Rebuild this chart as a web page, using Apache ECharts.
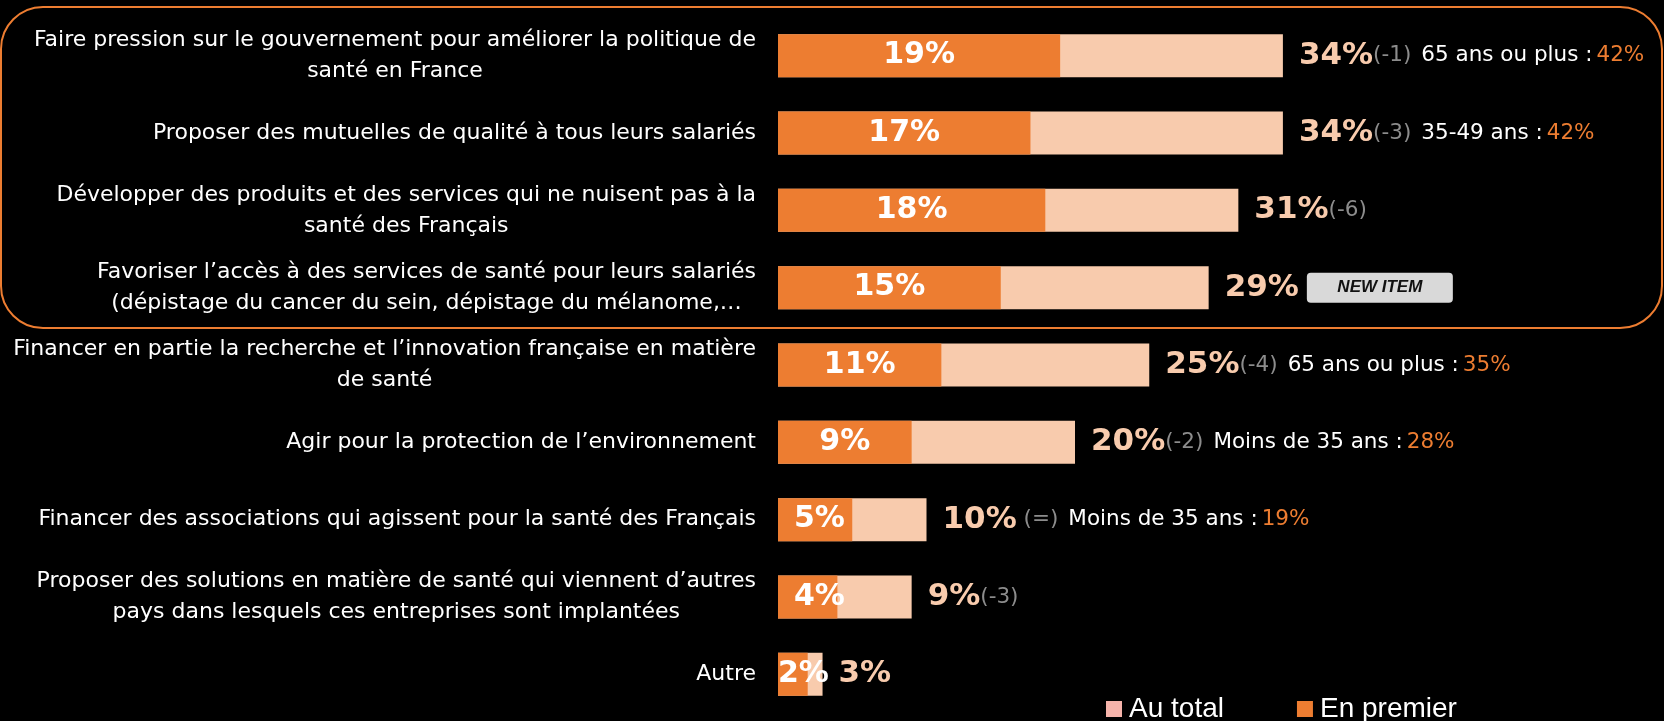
<!DOCTYPE html>
<html>
<head>
<meta charset="utf-8">
<script src="https://cdn.jsdelivr.net/npm/echarts@6/dist/echarts.min.js"></script>
<style>
  html, body { margin: 0; padding: 0; background: #000; }
  #chart_main { width: 1664px; height: 721px; }
</style>
</head>
<body>
<div id="chart_main"></div>
<script>
// items, top to bottom
const categories = [
  "Faire pression sur le gouvernement pour améliorer la politique de\nsanté en France",
  "Proposer des mutuelles de qualité à tous leurs salariés",
  "Développer des produits et des services qui ne nuisent pas à la\nsanté des Français",
  "Favoriser l’accès à des services de santé pour leurs salariés\n(dépistage du cancer du sein, dépistage du mélanome,…",
  "Financer en partie la recherche et l’innovation française en matière\nde santé",
  "Agir pour la protection de l’environnement",
  "Financer des associations qui agissent pour la santé des Français",
  "Proposer des solutions en matière de santé qui viennent d’autres\npays dans lesquels ces entreprises sont implantées",
  "Autre"
];
const totalValues = [34, 34, 31, 29, 25, 20, 10, 9, 3];
const firstValues = [19, 17, 18, 15, 11, 9, 5, 4, 2];
const changes = ["(-1)", "(-3)", "(-6)", "", "(-4)", "(-2)", " (=)", "(-3)", ""];
const topGroups = ["65 ans ou plus :", "35-49 ans :", "", "", "65 ans ou plus :", "Moins de 35 ans :", "Moins de 35 ans :", "", ""];
const topValues = ["42%", "42%", "", "", "35%", "28%", "19%", "", ""];
const newItems = [false, false, false, true, false, false, false, false, false];

const ORANGE = "#ed7d31";
const PEACH = "#f8cbad";

let chart_main = echarts.init(document.getElementById("chart_main"));

// small bars: label sits from the left instead of centred
let firstData = firstValues.map(v => {
  if (v > 5) return v;
  return { value: v, label: { position: "insideLeft", distance: v > 2 ? 16 : 0 } };
});

const option_main = {
  backgroundColor: "#000",
  animation: false,
  graphic: [
    {
      type: "rect",
      z: -1,
      shape: { x: 1, y: 7, width: 1661, height: 321, r: 42 },
      style: { fill: "none", stroke: ORANGE, lineWidth: 2 }
    }
  ],
  legend: {
    left: 1106,
    top: 695,
    padding: 0,
    itemWidth: 16,
    itemHeight: 16,
    itemGap: 73,
    icon: "rect",
    textStyle: { color: "#fff", fontSize: 28, fontFamily: "Liberation Sans", lineHeight: 28, padding: [0, 0, 0, 2] },
    data: [
      { name: "Au total", itemStyle: { color: "#f6b4ab" } },
      { name: "En premier", itemStyle: { color: ORANGE } }
    ]
  },
  grid: { left: 778, right: 143.5, top: 17, bottom: 8, containLabel: false, outerBoundsMode: "none" },
  xAxis: { type: "value", min: 0, max: 50, show: false },
  yAxis: {
    type: "category",
    inverse: true,
    data: categories,
    axisLine: { show: false },
    axisTick: { show: false },
    splitLine: { show: false },
    axisLabel: {
      margin: 22,
      align: "right",
      formatter: val => val.split("\n").map(l => "{c|" + l + "}").join("\n"),
      rich: {
        c: { align: "center", color: "#fff", fontSize: 22, lineHeight: 31, fontFamily: "DejaVu Sans" }
      }
    }
  },
  series: [
    {
      name: "Au total",
      type: "bar",
      barWidth: 43,
      barGap: "-100%",
      itemStyle: { color: PEACH },
      data: totalValues,
      label: {
        show: true,
        position: "right",
        distance: 16,
        formatter: p => {
          let i = p.dataIndex;
          let s = "{big|" + p.value + "%}";
          if (changes[i]) s += "{chg|" + changes[i] + "}";
          if (topGroups[i]) s += "{grp|" + topGroups[i] + "}{val|" + topValues[i] + "}";
          if (newItems[i]) s += "{sp| }{badge|NEW ITEM}";
          return s;
        },
        rich: {
          big: { fontFamily: "DejaVu Sans", fontWeight: "bold", fontSize: 31, color: PEACH },
          chg: { fontFamily: "DejaVu Sans", fontSize: 21.5, color: "#8c8c8c" },
          grp: { fontFamily: "DejaVu Sans", fontSize: 21.5, color: "#fff", padding: [0, 0, 0, 10] },
          val: { fontFamily: "DejaVu Sans", fontSize: 21.5, color: ORANGE, padding: [0, 0, 0, 4] },
          sp: { width: 8 },
          badge: {
            fontFamily: "Liberation Sans",
            fontStyle: "italic",
            fontWeight: "bold",
            fontSize: 17,
            color: "#111",
            backgroundColor: "#d9d9d9",
            borderRadius: 4,
            width: 146,
            height: 30,
            align: "center"
          }
        }
      }
    },
    {
      name: "En premier",
      type: "bar",
      barWidth: 43,
      itemStyle: { color: ORANGE },
      data: firstData,
      label: {
        show: true,
        position: "inside",
        formatter: "{c}%",
        color: "#fff",
        fontFamily: "DejaVu Sans",
        fontWeight: "bold",
        fontSize: 30
      }
    }
  ]
};

chart_main.setOption(option_main);
</script>
</body>
</html>
